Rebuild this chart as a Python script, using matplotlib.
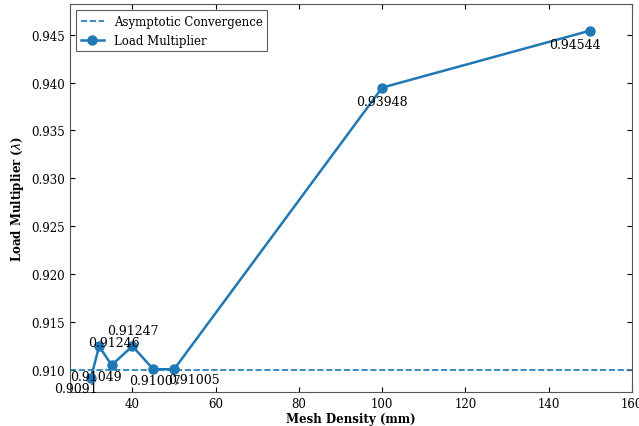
import matplotlib
matplotlib.use("Agg")
import matplotlib.pyplot as plt

# mesh study data
mesh_density = [30, 32, 35, 40, 45, 50, 100, 150]
load_mult = [0.9091, 0.91246, 0.91049, 0.91247, 0.91007, 0.91005, 0.93948, 0.94544]
labels = ["0.9091", "0.91246", "0.91049", "0.91247", "0.91007", "0.91005", "0.93948", "0.94544"]
asymptote = 0.910

# label offsets (points) so the numbers do not sit on the markers
offsets = [(-11, -7), (11, 3), (-11, -8), (0, 11), (1, -8), (14, -7), (0, -10), (-11, -10)]

plt.rcParams["font.family"] = "DejaVu Serif"
plt.rcParams["font.size"] = 8.5

fig, ax = plt.subplots(figsize=(6.39, 4.27), dpi=100)
fig.subplots_adjust(left=0.1095, right=0.989, bottom=0.080, top=0.988)

color = "#1f77b4"
ax.axhline(asymptote, color=color, linestyle="--", linewidth=1.2, label="Asymptotic Convergence")
ax.plot(mesh_density, load_mult, color=color, marker="o", markersize=6.5, linewidth=1.8,
        label="Load Multiplier")

for x, y, txt, off in zip(mesh_density, load_mult, labels, offsets):
    ax.annotate(txt, (x, y), xytext=off, textcoords="offset points",
                ha="center", va="center", fontsize=9)

ax.set_xlim(25, 160)
ax.set_ylim(0.9077, 0.9482)
ax.set_xlabel("Mesh Density (mm)", fontweight="bold", fontsize=8.5, labelpad=2)
ax.set_ylabel(r"Load Multiplier ($\lambda$)", fontweight="bold", fontsize=8.5)
ax.tick_params(direction="in", top=True, right=True)

for sp in ax.spines.values():
    sp.set_color("#555555")

leg = ax.legend(loc="upper left", fancybox=False, edgecolor="#333333", fontsize=8.5)
leg.get_frame().set_linewidth(0.8)

plt.savefig("out.png", dpi=100)
